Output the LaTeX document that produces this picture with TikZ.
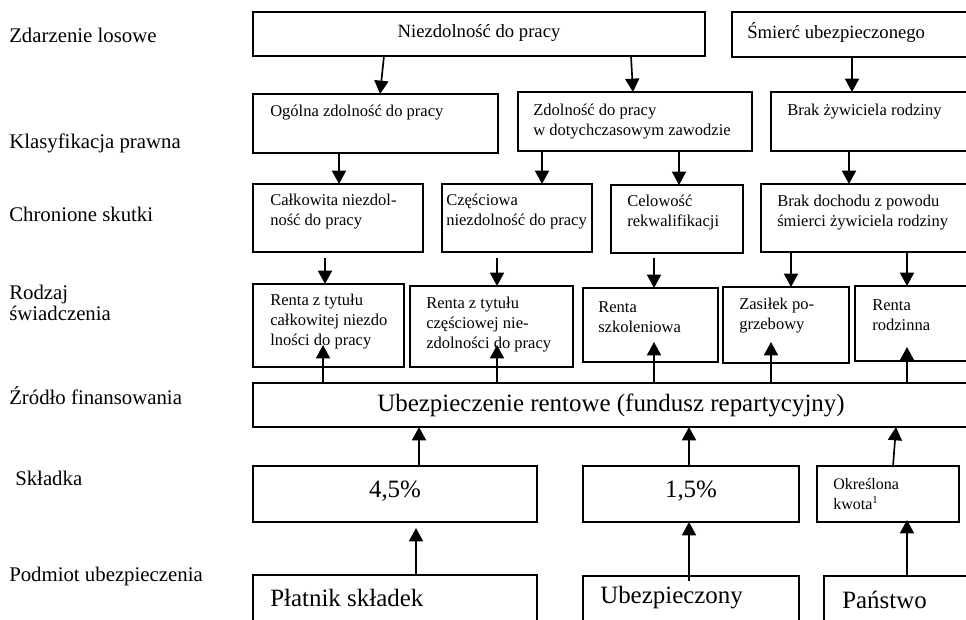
\documentclass[tikz,border=0pt]{standalone}
\usepackage{fontspec}
\setmainfont{Liberation Serif}
\usetikzlibrary{arrows.meta,fit,calc}
\begin{document}
\begin{tikzpicture}[x=0.75pt,y=-0.75pt,
  box/.style={draw, line width=1.2pt, inner sep=0pt, outer sep=0pt},
  txt/.style={inner sep=0pt, anchor=west, align=left, font=\fontsize{12.4}{15}\selectfont},
  toptxt/.style={inner sep=0pt, anchor=west, font=\fontsize{14}{17}\selectfont},
  bigtxt/.style={inner sep=0pt, font=\fontsize{18.7}{22}\selectfont},
  smalltxt/.style={inner sep=0pt, anchor=west, align=left, font=\fontsize{12}{14.3}\selectfont},
  lab/.style={inner sep=0pt, anchor=west, align=left, font=\fontsize{15.6}{15.8}\selectfont},
  arr/.style={line width=1.25pt, -{Triangle[width=10.5pt,length=10pt]}}]
\useasboundingbox (0,0) rectangle (966,620);
\clip (0,0) rectangle (966,620);

% left labels
\node[lab] (l1) at (9,35) {Zdarzenie losowe};
\node[lab] (l2) at (9,143) {Klasyfikacja prawna};
\node[lab] (l3) at (9,214) {Chronione skutki};
\node[lab] (l4) at (9,302.5) {Rodzaj\\świadczenia};
\node[lab] (l5) at (9,396) {Źródło finansowania};
\node[lab] (l6) at (15,478) {Składka};
\node[lab] (l7) at (9,576) {Podmiot ubezpieczenia};

% boxes
\node[box, fit={(253,12) (705,56)}] (niez) {};
\node[box, fit={(732,12) (975,57)}] (smierc) {};
\node[box, fit={(253,94) (498,153)}] (ogolna) {};
\node[box, fit={(518,92) (752,151)}] (zdol) {};
\node[box, fit={(771,92) (975,151)}] (brakz) {};
\node[box, fit={(253,184) (423,252)}] (calk) {};
\node[box, fit={(442,184) (592,252)}] (czesc) {};
\node[box, fit={(611,185) (743,253)}] (celow) {};
\node[box, fit={(761,184) (975,252)}] (brakd) {};
\node[box, fit={(253,284) (404,367)}] (rcalk) {};
\node[box, fit={(410,286) (573,367)}] (rczesc) {};
\node[box, fit={(583,288) (718,362)}] (rszk) {};
\node[box, fit={(723,287) (849,363)}] (zasil) {};
\node[box, fit={(855,286) (975,361)}] (rrodz) {};
\node[box, fit={(253,383) (975,427)}] (ubez) {};
\node[box, fit={(253,466) (537,522)}] (p45) {};
\node[box, fit={(583,466) (799,522)}] (p15) {};
\node[box, fit={(817,466) (959,522)}] (okr) {};
\node[box, fit={(253,575) (537,640)}] (platnik) {};
\node[box, fit={(583,576) (799,640)}] (ubezp) {};
\node[box, fit={(824,576) (975,640)}] (panstwo) {};

% texts
\node[toptxt, anchor=center] (t1) at (479,33) {Niezdolność do pracy};
\node[toptxt] (t2) at (747,33) {Śmierć ubezpieczonego};
\node[txt] (t3) at (270,113) {Ogólna zdolność do pracy};
\node[txt] (t4) at (533,121.5) {Zdolność do pracy\\w dotychczasowym zawodzie};
\node[txt] (t5) at (787,112) {Brak żywiciela rodziny};
\node[txt] (t6) at (270,212) {Całkowita niezdol-\\ność do pracy};
\node[txt] (t7) at (446,212) {Częściowa\\niezdolność do pracy};
\node[txt] (t8) at (627,213) {Celowość\\rekwalifikacji};
\node[txt] (t9) at (777,212.5) {Brak dochodu z powodu\\śmierci żywiciela rodziny};
\node[txt] (t10) at (270,322) {Renta z tytułu\\całkowitej niezdo\\lności do pracy};
\node[txt] (t11) at (426,325) {Renta z tytułu\\częściowej nie-\\zdolności do pracy};
\node[txt] (t12) at (598,317) {Renta\\szkoleniowa};
\node[txt] (t13) at (739,316) {Zasiłek po-\\grzebowy};
\node[txt] (t14) at (872,315) {Renta\\rodzinna};
\node[bigtxt] (t15) at (611,405) {Ubezpieczenie rentowe (fundusz repartycyjny)};
\node[bigtxt] (t16) at (395,491) {4,5\%};
\node[bigtxt] (t17) at (691,491) {1,5\%};
\node[smalltxt] (t18) at (833,494) {Określona\\kwota\textsuperscript{1}};
\node[bigtxt, anchor=west] (t19) at (270,598) {Płatnik składek};
\node[bigtxt, anchor=west] (t20) at (600,598) {Ubezpieczony};
\node[bigtxt, anchor=west] (t21) at (842,600) {Państwo};

% arrows: downward
\draw[arr] (niez.south -| 384,0) -- (ogolna.north -| 380,0);
\draw[arr] (niez.south -| 631,0) -- (zdol.north -| 633,0);
\draw[arr] (smierc.south -| 852,0) -- (brakz.north -| 852,0);
\draw[arr] (ogolna.south -| 339,0) -- (calk.north -| 339,0);
\draw[arr] (zdol.south -| 542,0) -- (czesc.north -| 542,0);
\draw[arr] (zdol.south -| 679,0) -- (celow.north -| 679,0);
\draw[arr] (brakz.south -| 849,0) -- (brakd.north -| 849,0);
\draw[arr, shorten <=4.5pt] (calk.south -| 325,0) -- (rcalk.north -| 325,0);
\draw[arr, shorten <=4.5pt] (czesc.south -| 497,0) -- (rczesc.north -| 497,0);
\draw[arr, shorten <=4pt] (celow.south -| 654,0) -- (rszk.north -| 654,0);
\draw[arr] (brakd.south -| 791,0) -- (zasil.north -| 791,0);
\draw[arr] (brakd.south -| 907,0) -- (rrodz.north -| 907,0);

% arrows: from fund up into benefits
\coordinate (e1) at (323,345);
\coordinate (e2) at (497,345);
\coordinate (e3) at (654,342);
\coordinate (e4) at (771,342);
\coordinate (e5) at (907,347);
\draw[arr] (ubez.north -| e1) -- (e1);
\draw[arr] (ubez.north -| e2) -- (e2);
\draw[arr] (ubez.north -| e3) -- (e3);
\draw[arr] (ubez.north -| e4) -- (e4);
\draw[arr] (ubez.north -| e5) -- (e5);

% arrows: contributions up to fund
\draw[arr] (p45.north -| 419,0) -- (ubez.south -| 419,0);
\draw[arr] (p15.north -| 689,0) -- (ubez.south -| 689,0);
\draw[arr] (okr.north -| 893,0) -- (ubez.south -| 896,0);

% arrows: payers up to contributions
\draw[arr, shorten >=4.5pt] (platnik.north -| 416,0) -- (p45.south -| 416,0);
\draw[arr, shorten <=-3.5pt] (ubezp.north -| 689,0) -- (p15.south -| 689,0);
\draw[arr, shorten >=-1.5pt] (panstwo.north -| 907,0) -- (okr.south -| 907,0);
\end{tikzpicture}
\end{document}
